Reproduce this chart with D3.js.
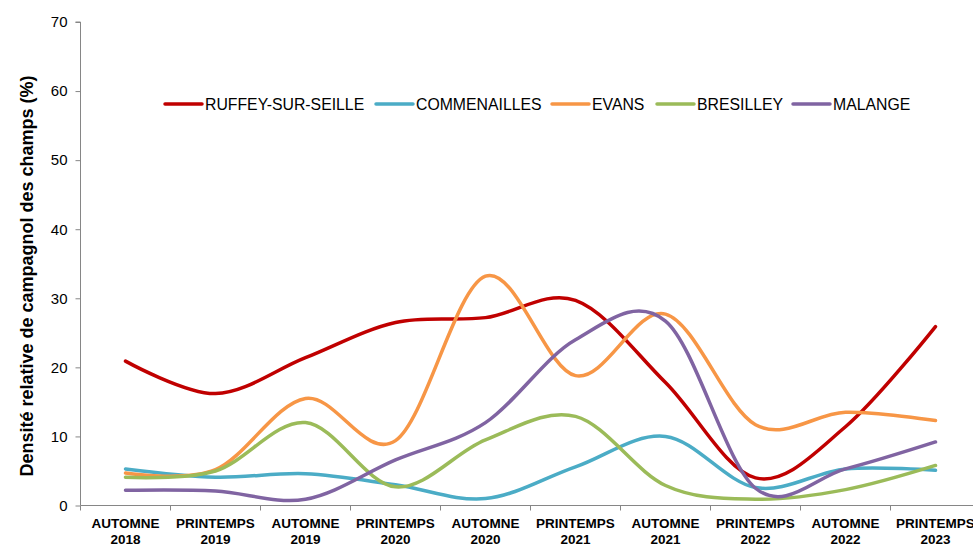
<!DOCTYPE html>
<html><head><meta charset="utf-8">
<script src="https://cdn.jsdelivr.net/npm/d3@7"></script>
<style>body{margin:0;background:#fff;}svg{display:block;font-family:Arial,"Liberation Sans",sans-serif;}</style>
</head><body>
<svg id="c" width="973" height="547"></svg>
<script>
const categories = [["AUTOMNE","2018"],["PRINTEMPS","2019"],["AUTOMNE","2019"],["PRINTEMPS","2020"],["AUTOMNE","2020"],["PRINTEMPS","2021"],["AUTOMNE","2021"],["PRINTEMPS","2022"],["AUTOMNE","2022"],["PRINTEMPS","2023"]];
const seriesNames = ["RUFFEY-SUR-SEILLE","COMMENAILLES","EVANS","BRESILLEY","MALANGE"];
const ruffey      = [20.9, 16.2, 21.4, 26.5, 27.2, 29.7, 17.8, 4.0, 11.4, 25.9];
const commenailles= [5.3, 4.1, 4.6, 3.0, 1.0, 5.6, 10.0, 2.6, 5.3, 5.1];
const evans       = [4.7, 5.2, 15.5, 9.4, 33.2, 18.8, 27.7, 11.7, 13.5, 12.3];
const bresilley   = [4.1, 5.0, 12.0, 2.7, 9.5, 12.9, 2.9, 0.9, 2.3, 5.8];
const malange     = [2.2, 2.1, 0.9, 6.6, 12.0, 24.0, 26.7, 2.5, 5.3, 9.2];
const yTicks = [0,10,20,30,40,50,60,70];
const colors = ["#C00000","#4BACC6","#F79646","#9BBB59","#8064A2"];

(function(){
const allSeries = [ruffey, commenailles, evans, bresilley, malange];
const svg = d3.select("#c");
const mLeft = 80.5, mRight = 980.5, mTop = 22, mBottom = 505.5;
const x = d3.scaleBand().domain(d3.range(categories.length)).range([mLeft, mRight]).padding(0);
const y = d3.scaleLinear().domain([0,70]).range([mBottom, mTop]);
const axisColor = "#868686";

// y axis
const ya = svg.append("g").attr("transform",`translate(${mLeft},0)`)
  .call(d3.axisLeft(y).tickValues(yTicks).tickSize(5).tickPadding(8));
ya.select(".domain").attr("stroke",axisColor).attr("d",`M-5,${y(70)}H0V${mBottom}`);
ya.selectAll(".tick line").attr("stroke",axisColor);
ya.selectAll(".tick text").attr("font-size","15px").attr("fill","#000").attr("font-family","Arial, 'Liberation Sans', sans-serif");

// x axis
const xa = svg.append("g").attr("transform",`translate(0,${mBottom})`);
xa.append("line").attr("x1",mLeft).attr("x2",mRight).attr("stroke",axisColor);
d3.range(categories.length+1).forEach(i=>{
  const xx = i<categories.length ? x(i) : mRight;
  xa.append("line").attr("x1",xx).attr("x2",xx).attr("y1",0).attr("y2",5).attr("stroke",axisColor);
});
categories.forEach((c,i)=>{
  const cx = x(i)+x.bandwidth()/2;
  const t = xa.append("text").attr("x",cx).attr("text-anchor","middle")
    .attr("font-size","13.5px").attr("font-weight","bold").attr("fill","#000");
  t.append("tspan").attr("x",cx).attr("y",22.5).text(c[0]);
  t.append("tspan").attr("x",cx).attr("y",38.5).text(c[1]);
});

// y title
svg.append("text").attr("transform",`translate(33,276) rotate(-90)`)
  .attr("text-anchor","middle").attr("font-size","18px").attr("font-weight","bold").attr("fill","#000")
  .text("Densité relative de campagnol des champs (%)");

// lines
const line = d3.line().x((d,i)=>x(i)+x.bandwidth()/2).y(d=>y(d)).curve(d3.curveCardinal.tension(0));
allSeries.forEach((s,k)=>{
  svg.append("path").datum(s).attr("d",line).attr("fill","none")
    .attr("stroke",colors[k]).attr("stroke-width",3.5).attr("stroke-linecap","round").attr("stroke-linejoin","round");
});

// legend
const legendX = [165, 376, 552, 657, 793];
seriesNames.forEach((n,k)=>{
  const g = svg.append("g").attr("transform",`translate(${legendX[k]},104)`);
  g.append("line").attr("x1",0).attr("x2",37).attr("stroke",colors[k]).attr("stroke-width",3.5).attr("stroke-linecap","round");
  g.append("text").attr("x",40).attr("y",5.5).attr("font-size","15.8px").attr("fill","#000").text(n);
});
})();
</script>
</body></html>
